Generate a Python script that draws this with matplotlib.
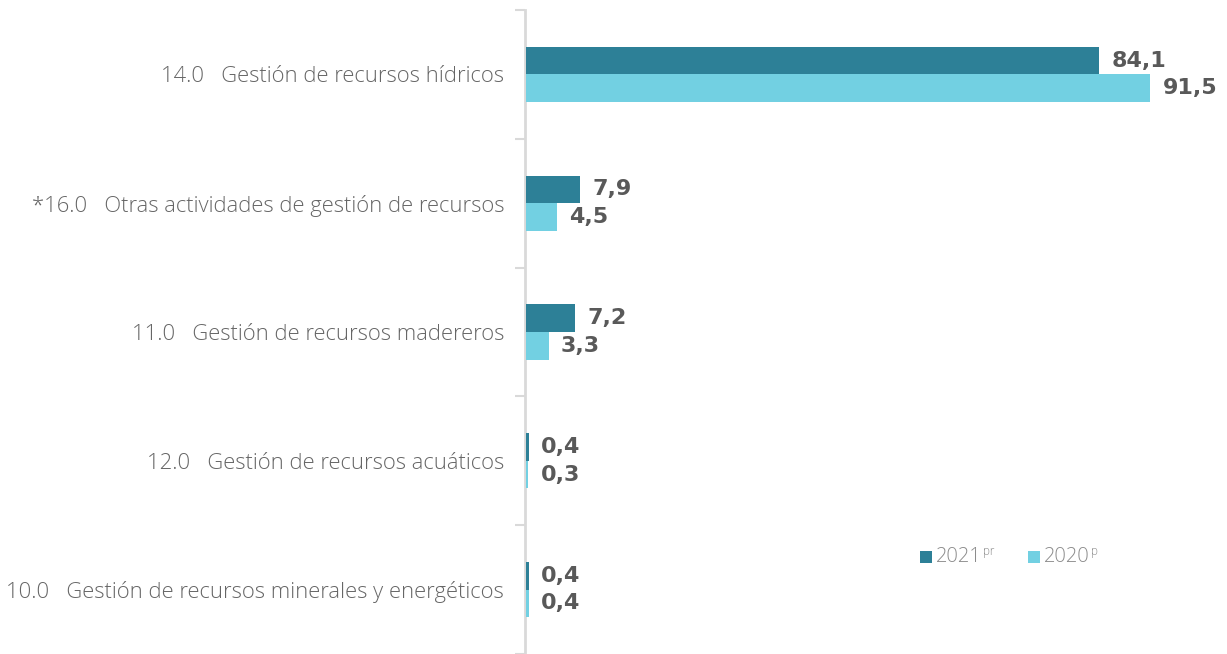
import matplotlib
matplotlib.use("Agg")
import matplotlib.pyplot as plt
from matplotlib.patches import Rectangle
import numpy as np

categories = [
    "14.0   Gestión de recursos hídricos",
    "*16.0   Otras actividades de gestión de recursos",
    "11.0   Gestión de recursos madereros",
    "12.0   Gestión de recursos acuáticos",
    "10.0   Gestión de recursos minerales y energéticos",
]
values_2021 = [84.1, 7.9, 7.2, 0.4, 0.4]
values_2020 = [91.5, 4.5, 3.3, 0.3, 0.4]
series_names = ["2021", "2020"]
series_sups = ["pr", "p"]

color_2021 = "#2D8097"
color_2020 = "#72D0E2"
label_color = "#666666"
value_color = "#595959"
legend_color = "#8C8C8C"
axis_color = "#D9D9D9"

plt.rcParams["font.family"] = ["Open Sans", "DejaVu Sans"]

W, H = 1227, 654
fig = plt.figure(figsize=(W / 100, H / 100), dpi=100)
ax = fig.add_axes([525 / W, 0, 1 - 525 / W, 644 / H])

y = np.arange(len(categories))
bh = 0.215
ax.barh(y - bh / 2, values_2021, height=bh, color=color_2021, zorder=3)
ax.barh(y + bh / 2, values_2020, height=bh, color=color_2020, zorder=3)

def fmt(v):
    return f"{v:.1f}".replace(".", ",")

value_font = dict(fontsize=16, fontweight="bold", color=value_color, family="DejaVu Sans")
for yi, v in zip(y, values_2021):
    ax.annotate(fmt(v), (v, yi - bh / 2), xytext=(9, 0), textcoords="offset points",
                ha="left", va="center", **value_font)
for yi, v in zip(y, values_2020):
    ax.annotate(fmt(v), (v, yi + bh / 2), xytext=(9, 0), textcoords="offset points",
                ha="left", va="center", **value_font)

ax.set_xlim(-0.15, 102.8)
ax.set_ylim(4.5, -0.5)

for s in ["top", "right", "bottom"]:
    ax.spines[s].set_visible(False)
ax.spines["left"].set_color(axis_color)
ax.spines["left"].set_linewidth(2)
ax.spines["left"].set_zorder(1)
ax.set_xticks([])

ax.set_yticks(np.arange(-0.5, 5.0, 1.0), minor=False)
ax.set_yticklabels([])
ax.tick_params(axis="y", which="major", length=7, width=1.5, color=axis_color)
ax.set_yticks(y, minor=True)
ax.set_yticklabels(categories, minor=True, fontsize=15.8, color=label_color, fontweight="light")
ax.tick_params(axis="y", which="minor", length=0, pad=15)

# Legend drawn in figure pixel coordinates
leg_y = 557
leg_items = [(920, color_2021), (1028, color_2020)]
for (lx, col), name, sup in zip(leg_items, series_names, series_sups):
    fig.patches.append(Rectangle(((lx) / W, 1 - (leg_y + 6) / H), 12 / W, 12 / H,
                                 transform=fig.transFigure, facecolor=col, edgecolor="none"))
    t = fig.text((lx + 16) / W, 1 - leg_y / H, name, fontsize=14.5, color=legend_color,
                 ha="left", va="center", fontweight="light")
    fig.canvas.draw()
    bb = t.get_window_extent()
    fig.text((bb.x1 + 1) / W, 1 - (leg_y - 5) / H, sup, fontsize=8.5, color=legend_color,
             ha="left", va="center", fontweight="light")

fig.savefig("out.png", dpi=100)
